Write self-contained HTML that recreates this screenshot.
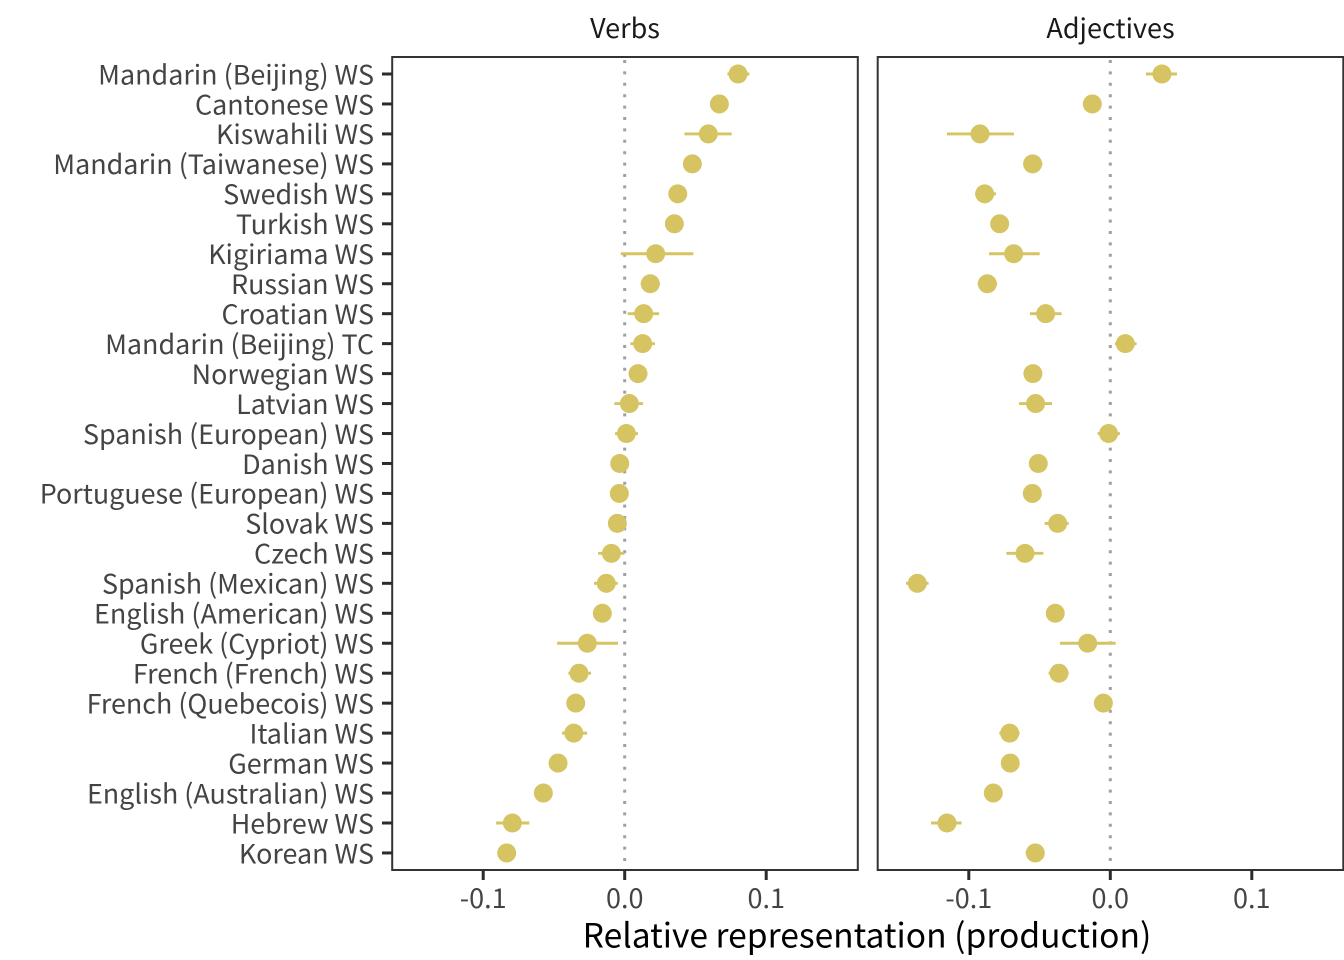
<!DOCTYPE html>
<html lang="en">
<head>
<meta charset="utf-8">
<title>Relative representation (production)</title>
<style>
html,body{margin:0;padding:0;background:#fff;}
svg{display:block;font-family:"Noto Sans CJK JP","Liberation Sans",sans-serif;}
</style>
</head>
<body>
<svg id="chart" xmlns="http://www.w3.org/2000/svg" width="1344" height="960" viewBox="0 0 1344 960">
<rect width="1344" height="960" fill="#fff"/>
<text x="867" y="947.5" text-anchor="middle" font-size="33.6" fill="#000">Relative representation (production)</text>
</svg>
<script>
const languages = ["Mandarin (Beijing) WS","Cantonese WS","Kiswahili WS","Mandarin (Taiwanese) WS","Swedish WS","Turkish WS","Kigiriama WS","Russian WS","Croatian WS","Mandarin (Beijing) TC","Norwegian WS","Latvian WS","Spanish (European) WS","Danish WS","Portuguese (European) WS","Slovak WS","Czech WS","Spanish (Mexican) WS","English (American) WS","Greek (Cypriot) WS","French (French) WS","French (Quebecois) WS","Italian WS","German WS","English (Australian) WS","Hebrew WS","Korean WS"];
const xTicks = [-0.1, 0, 0.1];
const xTickLabels = ["-0.1", "0.0", "0.1"];
const panelNames = ["Verbs", "Adjectives"];

const verbsMean = [0.0801,0.0669,0.0591,0.0478,0.0375,0.0351,0.0219,0.0181,0.0134,0.0127,0.0094,0.0033,0.0012,-0.0035,-0.0038,-0.0052,-0.0094,-0.0130,-0.0158,-0.0264,-0.0323,-0.0346,-0.0360,-0.0471,-0.0575,-0.0794,-0.0834];
const verbsLow = [0.0726,0.0630,0.0422,0.0440,0.0340,0.0315,-0.0028,0.0113,0.0021,0.0040,0.0060,-0.0073,-0.0068,-0.0070,-0.0075,-0.0090,-0.0188,-0.0217,-0.0195,-0.0478,-0.0398,-0.0380,-0.0443,-0.0505,-0.0610,-0.0909,-0.0870];
const verbsHigh = [0.0881,0.0705,0.0756,0.0515,0.0410,0.0385,0.0485,0.0250,0.0243,0.0214,0.0130,0.0130,0.0094,0.0000,0.0000,-0.0015,-0.0002,-0.0049,-0.0120,-0.0047,-0.0238,-0.0310,-0.0266,-0.0435,-0.0540,-0.0674,-0.0800];

const adjectivesMean = [0.0365,-0.0127,-0.0921,-0.0549,-0.0888,-0.0782,-0.0683,-0.0869,-0.0457,0.0106,-0.0547,-0.0528,-0.0012,-0.0509,-0.0551,-0.0372,-0.0603,-0.1364,-0.0389,-0.0160,-0.0363,-0.0049,-0.0711,-0.0707,-0.0827,-0.1154,-0.0530];
const adjectivesLow = [0.0252,-0.0165,-0.1154,-0.0615,-0.0954,-0.0820,-0.0857,-0.0938,-0.0568,0.0033,-0.0585,-0.0645,-0.0090,-0.0545,-0.0590,-0.0464,-0.0735,-0.1444,-0.0425,-0.0356,-0.0436,-0.0085,-0.0784,-0.0745,-0.0865,-0.1267,-0.0598];
const adjectivesHigh = [0.0471,-0.0090,-0.0681,-0.0480,-0.0808,-0.0745,-0.0499,-0.0800,-0.0344,0.0186,-0.0510,-0.0412,0.0068,-0.0475,-0.0515,-0.0294,-0.0473,-0.1284,-0.0352,0.0038,-0.0294,-0.0012,-0.0641,-0.0670,-0.0790,-0.1051,-0.0470];

const svgNS = "http://www.w3.org/2000/svg";
const chart = document.getElementById("chart");
const panelTop = 57, panelBottom = 870, panelWidth = 465.6;
const pxPerUnit = 1415;
const firstRowY = 74, rowStep = 29.96;
const markColor = "#d6c463";

function make(tag, attrs, parent) {
  const el = document.createElementNS(svgNS, tag);
  for (const k in attrs) el.setAttribute(k, attrs[k]);
  parent.appendChild(el);
  return el;
}
function yScale(i) { return firstRowY + i * rowStep; }
function xScale(zeroX, v) { return zeroX + v * pxPerUnit; }

function drawPanel(slug, title, left, zeroX, mean, low, high) {
  const g = make("g", {}, chart);
  
  

  const strip = make("text", {x: left + panelWidth / 2, y: 38, "text-anchor": "middle", "font-size": 27, fill: "#1a1a1a"}, g);
  
  
  strip.textContent = title;

  const zero = make("line", {x1: xScale(zeroX, 0), x2: xScale(zeroX, 0), y1: panelTop + 3, y2: panelBottom, stroke: "#a0a0a0", "stroke-width": 3, "stroke-dasharray": "3 8.4"}, g);
  
  

  mean.forEach(function (m, i) {
    const y = yScale(i);
    const ci = make("line", {x1: xScale(zeroX, low[i]), x2: xScale(zeroX, high[i]), y1: y, y2: y, stroke: markColor, "stroke-width": 2.9}, g);
    
    
    const dot = make("circle", {cx: xScale(zeroX, m), cy: y, r: 9.5, fill: markColor}, g);
    
    
  });

  const frame = make("rect", {x: left, y: panelTop, width: panelWidth, height: panelBottom - panelTop, fill: "none", stroke: "#333", "stroke-width": 2}, g);
  
  

  xTicks.forEach(function (t, i) {
    const x = xScale(zeroX, t);
    const tick = make("line", {x1: x, x2: x, y1: panelBottom, y2: panelBottom + 10, stroke: "#2b2b2b", "stroke-width": 3}, g);
    
    
    const lab = make("text", {x: x, y: 908, "text-anchor": "middle", "font-size": 27, fill: "#444"}, g);
    
    
    lab.textContent = xTickLabels[i];
  });
}

drawPanel("verbs", panelNames[0], 392.2, 624.7, verbsMean, verbsLow, verbsHigh);
drawPanel("adjectives", panelNames[1], 877.7, 1110.3, adjectivesMean, adjectivesLow, adjectivesHigh);

languages.forEach(function (name, i) {
  const y = yScale(i);
  const tick = make("line", {x1: 382, x2: 392, y1: y, y2: y, stroke: "#2b2b2b", "stroke-width": 3}, chart);
  
  
  const lab = make("text", {x: 374, y: y + 10.3, "text-anchor": "end", "font-size": 26.9, fill: "#444"}, chart);
  
  
  lab.textContent = name;
});
</script>
</body>
</html>
